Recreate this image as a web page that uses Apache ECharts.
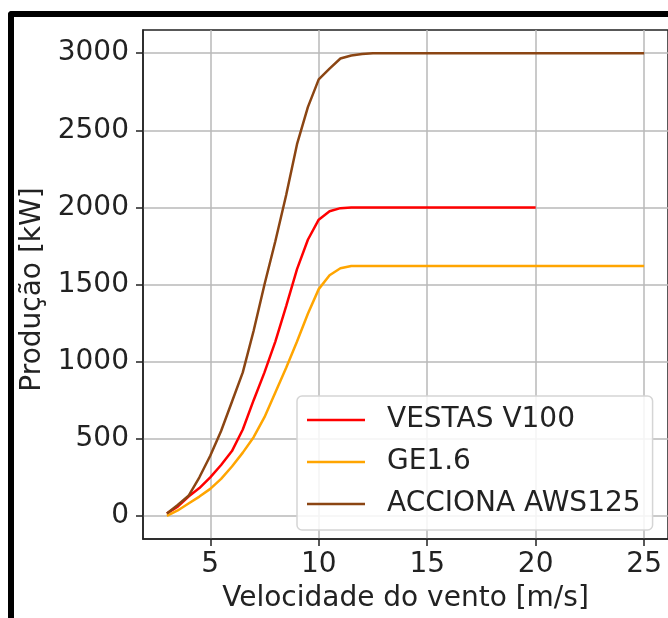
<!DOCTYPE html>
<html>
<head>
<meta charset="utf-8">
<script src="https://cdn.jsdelivr.net/npm/echarts@6/dist/echarts.min.js"></script>
<style>
    html, body { margin: 0; padding: 0; background: #fff; }
    #frame {
        position: absolute; left: 8px; top: 11px; width: 700px; height: 650px;
        border-left: 6px solid #000; border-top: 6px solid #000;
        border-top-left-radius: 4px;
    }
    #chart { position: absolute; left: 0; top: 0; width: 668px; height: 618px; }
</style>
</head>
<body>
<div id="frame"></div>
<div id="chart"></div>
<script>
    // velocidade do vento [m/s]
    var speeds = [3, 3.5, 4, 4.5, 5, 5.5, 6, 6.5, 7, 7.5, 8, 8.5, 9, 9.5, 10, 10.5, 11, 11.5,
        12, 12.5, 13, 13.5, 14, 14.5, 15, 15.5, 16, 16.5, 17, 17.5, 18, 18.5, 19, 19.5, 20,
        20.5, 21, 21.5, 22, 22.5, 23, 23.5, 24, 24.5, 25];
    // producao [kW]
    var vestas = [15, 60, 125, 180, 250, 330, 420, 560, 750, 930, 1130, 1360, 1600, 1790, 1920, 1975, 1995, 2000,
        2000, 2000, 2000, 2000, 2000, 2000, 2000, 2000, 2000, 2000, 2000, 2000, 2000, 2000, 2000, 2000, 2000];
    var ge = [0, 35, 80, 125, 175, 240, 320, 410, 510, 640, 800, 960, 1130, 1310, 1470, 1560, 1605, 1620,
        1620, 1620, 1620, 1620, 1620, 1620, 1620, 1620, 1620, 1620, 1620, 1620, 1620, 1620, 1620, 1620, 1620,
        1620, 1620, 1620, 1620, 1620, 1620, 1620, 1620, 1620, 1620];
    var acciona = [15, 70, 130, 250, 390, 550, 740, 930, 1200, 1500, 1780, 2080, 2410, 2650, 2830, 2900, 2965, 2985,
        2995, 3000, 3000, 3000, 3000, 3000, 3000, 3000, 3000, 3000, 3000, 3000, 3000, 3000, 3000, 3000, 3000,
        3000, 3000, 3000, 3000, 3000, 3000, 3000, 3000, 3000, 3000];
    var xTicks = [5, 10, 15, 20, 25];
    var yTicks = [0, 500, 1000, 1500, 2000, 2500, 3000];

    function pairs(vals) {
        return vals.map(function (v, i) { return [speeds[i], v]; });
    }

    var font = 'DejaVu Sans';
    var myChart = echarts.init(document.getElementById('chart'));
    var option = {
        animation: false,
        textStyle: { fontFamily: font },
        grid: {
            left: 143, right: -1, top: 30, bottom: 78,
            show: true, borderColor: '#222', borderWidth: 1.5
        },
        legend: {
            orient: 'vertical',
            left: 297, top: 396,
            icon: 'rect',
            itemWidth: 58, itemHeight: 2.5, itemGap: 10,
            padding: [8, 12, 10, 10],
            backgroundColor: 'rgba(255,255,255,0.85)',
            borderColor: '#d5d5d5', borderWidth: 1.5, borderRadius: 5,
            textStyle: { fontSize: 28, color: '#222', fontFamily: font, lineHeight: 32, padding: [0, 0, 0, 17] },
            data: ['VESTAS V100', 'GE1.6', 'ACCIONA AWS125']
        },
        xAxis: {
            type: 'value', min: 1.9, max: 26.1,
            name: 'Velocidade do vento [m/s]',
            nameLocation: 'middle', nameGap: 46,
            nameTextStyle: { fontSize: 28, color: '#222', fontFamily: font },
            axisLine: { show: true, onZero: false, lineStyle: { color: '#222', width: 1.5 } },
            axisTick: { show: true, customValues: xTicks, length: 7, lineStyle: { color: '#222', width: 1.5 } },
            axisLabel: { customValues: xTicks, fontSize: 28, color: '#222', margin: 12, fontFamily: font },
            splitLine: { show: true, lineStyle: { color: '#b8b8b8', width: 1.5 } }
        },
        yAxis: {
            type: 'value', min: -150, max: 3150,
            name: 'Produção [kW]',
            nameLocation: 'middle', nameGap: 74,
            nameTextStyle: { fontSize: 28, color: '#222', fontFamily: font, padding: [0, 10, 0, 0] },
            axisLine: { show: true, onZero: false, lineStyle: { color: '#222', width: 1.5 } },
            axisTick: { show: true, customValues: yTicks, length: 7, lineStyle: { color: '#222', width: 1.5 } },
            axisLabel: {
                customValues: yTicks, fontSize: 28, color: '#222', margin: 14, fontFamily: font,
                formatter: function (v) { return String(v); }
            },
            splitLine: { show: true, lineStyle: { color: '#b8b8b8', width: 1.5 } }
        },
        series: [
            {
                name: 'VESTAS V100', type: 'line', data: pairs(vestas),
                symbol: 'none', color: '#ff0000', lineStyle: { width: 2.5 }
            },
            {
                name: 'GE1.6', type: 'line', data: pairs(ge),
                symbol: 'none', color: '#ffa500', lineStyle: { width: 2.5 }
            },
            {
                name: 'ACCIONA AWS125', type: 'line', data: pairs(acciona),
                symbol: 'none', color: '#8b4513', lineStyle: { width: 2.5 }
            }
        ]
    };
    myChart.setOption(option);
</script>
</body>
</html>
